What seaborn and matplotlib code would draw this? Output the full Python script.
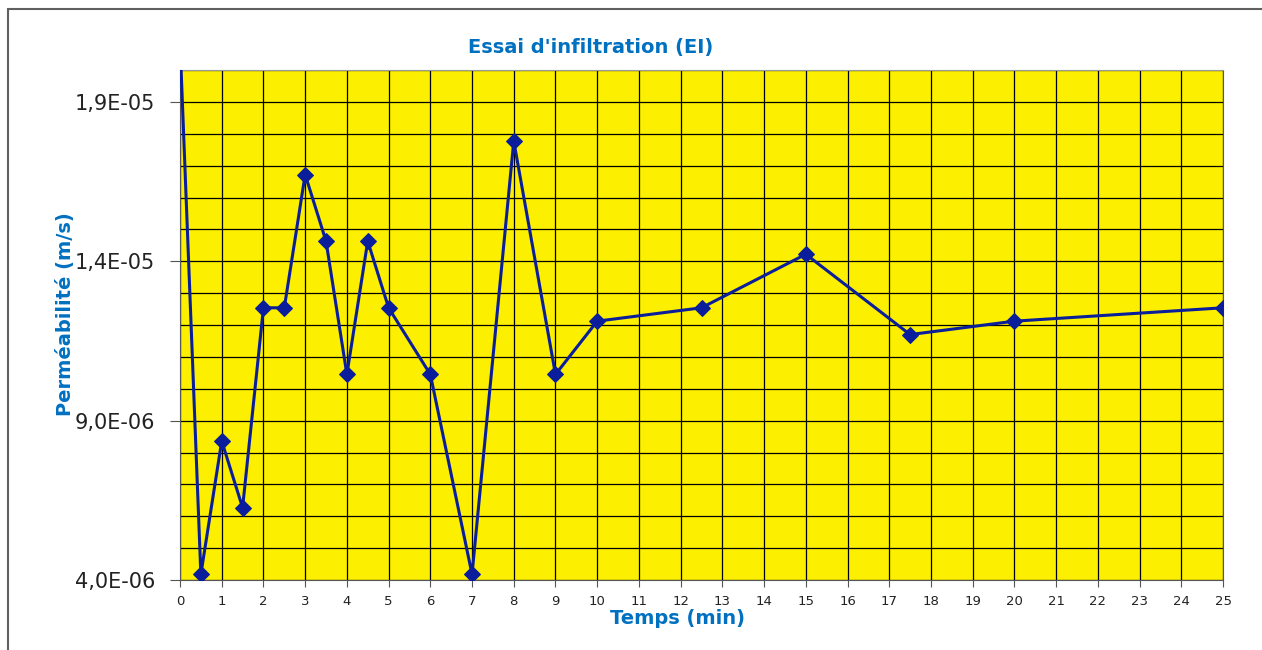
import seaborn as sns
import numpy as np
import matplotlib.pyplot as plt
from matplotlib.ticker import MultipleLocator, FuncFormatter
from matplotlib.patches import Rectangle

# Essai d'infiltration : temps (min) / perméabilité (m/s)
temps = [0, 0.5, 1, 1.5, 2, 2.5, 3, 3.5, 4, 4.5, 5, 6, 7, 8, 9, 10, 12.5, 15, 17.5, 20, 25]
permeabilite = [2.09e-05, 4.18e-06, 8.36e-06, 6.27e-06, 1.254e-05, 1.254e-05, 1.672e-05,
                1.463e-05, 1.045e-05, 1.463e-05, 1.254e-05, 1.045e-05, 4.18e-06, 1.777e-05,
                1.045e-05, 1.212e-05, 1.254e-05, 1.422e-05, 1.170e-05, 1.212e-05, 1.254e-05]

y_ticks = [4e-06, 9e-06, 1.4e-05, 1.9e-05]
x_ticks = list(range(0, 26))

sns.set_style("ticks")
plt.rcParams['font.family'] = ['DejaVu Sans']

fig = plt.figure(figsize=(12.62, 6.5), dpi=100)
ax = fig.add_axes([180 / 1262, 1 - 580 / 650, (1223 - 180) / 1262, (580 - 70) / 650])
ax.set_facecolor('#FCF000')

# cadre extérieur du graphique
fig.patches.append(Rectangle((8 / 1262, -0.1), 1.2, 1.1 - 9 / 650, transform=fig.transFigure,
                             fill=False, edgecolor='#606060', lw=1.5))

sns.lineplot(x=temps, y=permeabilite, marker='D', markersize=7.8, color='#0A1E9C',
             markeredgecolor='#0A1E9C', linewidth=2.2, ax=ax, zorder=5)

ax.set_xlim(0, 25)
ax.set_ylim(4e-06, 2e-05)
ax.set_xticks(x_ticks)
ax.set_yticks(y_ticks)
ax.yaxis.set_minor_locator(MultipleLocator(1e-06))
ax.yaxis.set_major_formatter(FuncFormatter(lambda v, p: f"{v:.1E}".replace('.', ',')))

ax.grid(which='both', color='black', lw=0.9)
ax.set_axisbelow(True)
ax.tick_params(axis='x', which='major', labelsize=9.5, length=5, color='#555555',
               labelcolor='#222222', pad=6)
ax.tick_params(axis='y', which='major', labelsize=15, length=7, color='#555555',
               labelcolor='#222222', pad=11)
ax.tick_params(axis='y', which='minor', length=0)
for side in ['left', 'bottom', 'right']:
    ax.spines[side].set_color('#555555')
ax.spines['top'].set_color('#999999')

fig.text(591 / 1262, 1 - 48 / 650, "Essai d'infiltration (EI)", ha='center', va='center',
         fontsize=14, fontweight='bold', color='#0070C0')
fig.text(677 / 1262, 1 - 618 / 650, "Temps (min)", ha='center', va='center',
         fontsize=14, fontweight='bold', color='#0070C0')
fig.text(65 / 1262, 1 - 314 / 650, "Perméabilité (m/s)", ha='center', va='center',
         rotation=90, fontsize=14, fontweight='bold', color='#0070C0')

fig.savefig('out.png', dpi=100)
